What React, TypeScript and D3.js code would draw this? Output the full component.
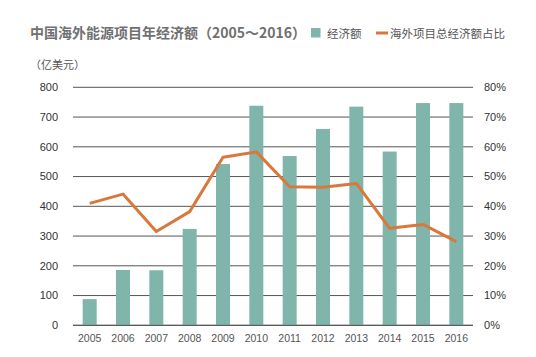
import React from "react";
import * as d3 from "d3";

const years = ["2005","2006","2007","2008","2009","2010","2011","2012","2013","2014","2015","2016"];
const amounts = [88, 186, 185, 324, 542, 738, 569, 660, 735, 584, 747, 747];
const shares = [41, 44.1, 31.5, 38.2, 56.5, 58.3, 46.6, 46.4, 47.7, 32.6, 33.9, 28.1];
const leftTicks = [0, 100, 200, 300, 400, 500, 600, 700, 800];
const rightTicks = [0, 10, 20, 30, 40, 50, 60, 70, 80];

const W = 536, H = 357;
const left = 73, right = 473, top = 87.3, bottom = 325.3;
const barColor = "#80b5ab";
const lineColor = "#d9783d";
const font = "'Noto Sans CJK SC', 'Noto Sans', sans-serif";

export default function App() {
  const x = d3.scaleBand<string>().domain(years).range([left, right]).paddingInner(0.58).paddingOuter(0.29);
  const yL = d3.scaleLinear().domain([0, 800]).range([bottom, top]);
  const yR = d3.scaleLinear().domain([0, 80]).range([bottom, top]);
  const line = d3.line<number>()
    .x((_, i) => (x(years[i]) as number) + x.bandwidth() / 2)
    .y((d) => yR(d));
  return (
    <svg width={W} height={H} style={{ position: "absolute", left: 0, top: 0, background: "#fff" }} fontFamily={font}>
      <text x={30} y={38} fontSize={14} fontWeight="bold" fill="#707070">中国海外能源项目年经济额（2005～2016）</text>
      <rect x={311} y={28} width={9.5} height={9.5} fill={barColor} />
      <text x={327} y={38} fontSize={11.5} fill="#555">经济额</text>
      <line x1={376} x2={388} y1={33} y2={33} stroke={lineColor} strokeWidth={3} />
      <text x={390} y={38} fontSize={11.5} fill="#555">海外项目总经济额占比</text>
      <text x={30} y={69} fontSize={11} fill="#555">（亿美元）</text>
      {leftTicks.map((t) => (
        <g key={t}>
          <line x1={left} x2={right} y1={yL(t)} y2={yL(t)} stroke="#555" strokeWidth={1} />
          <text x={58} y={yL(t)} dy="0.35em" textAnchor="end" fontSize={11} fill="#333" fontFamily="'Liberation Sans', Arial, sans-serif">{t}</text>
        </g>
      ))}
      {rightTicks.map((t) => (
        <text key={t} x={484} y={yR(t)} dy="0.35em" fontSize={11} fill="#333" fontFamily="'Liberation Sans', Arial, sans-serif">{t}%</text>
      ))}
      {years.map((yr, i) => (
        <rect key={yr} x={x(yr)} y={yL(amounts[i])} width={x.bandwidth()} height={bottom - yL(amounts[i])} fill={barColor} />
      ))}
      <line x1={left} x2={right} y1={bottom} y2={bottom} stroke="#555" strokeWidth={1} />
      <path d={line(shares) || ""} fill="none" stroke={lineColor} strokeWidth={3} strokeLinejoin="round" />
      {years.map((yr) => (
        <text key={yr} x={(x(yr) as number) + x.bandwidth() / 2} y={342} textAnchor="middle" fontSize={10.5} fill="#555" fontFamily="'Liberation Sans', Arial, sans-serif">{yr}</text>
      ))}
    </svg>
  );
}
